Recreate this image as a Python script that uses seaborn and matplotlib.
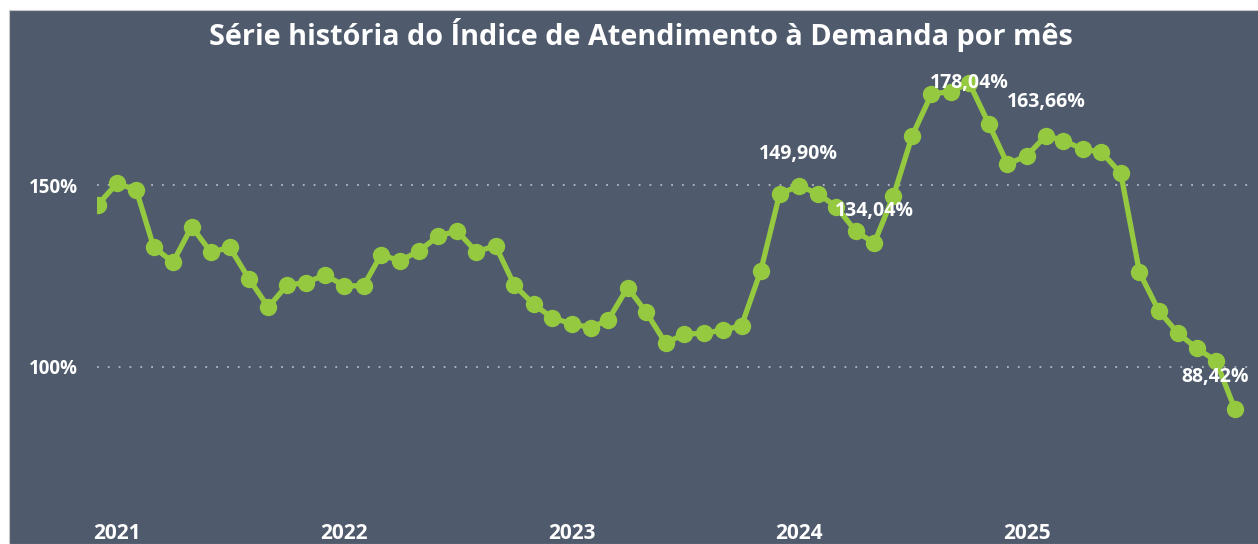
import matplotlib
matplotlib.use('Agg')

import numpy as np
import pandas as pd
import seaborn as sns
import matplotlib.pyplot as plt
import matplotlib.dates as mdates
from matplotlib.patches import Rectangle

# monthly series, Dec/2020 .. Dec/2025
meses = pd.date_range('2020-12-01', '2025-12-01', freq='MS')
indice = [
    144.6,
    150.5, 148.7, 132.9, 128.8, 138.6, 131.5, 132.9, 124.2, 116.4, 122.5, 123.2, 125.3,
    122.3, 122.3, 130.8, 129.2, 131.9, 136.0, 137.4, 131.7, 133.3, 122.5, 117.2, 113.5,
    111.8, 110.8, 112.9, 121.8, 115.0, 106.5, 109.0, 109.2, 110.1, 111.3, 126.5, 147.5,
    149.90, 147.6, 144.1, 137.4, 134.04, 147.1, 163.6, 175.1, 175.8, 178.04, 166.9, 155.8,
    158.1, 163.66, 162.3, 159.9, 159.1, 153.3, 126.0, 115.4, 109.2, 105.1, 101.6, 88.42,
]
rotulos_idx = [37, 41, 46, 50, 60]
rotulos_off = [(0, 23), (0, 23), (0, 0), (0, 24), (-14, 23)]
anos = ['2021', '2022', '2023', '2024', '2025']

df = pd.DataFrame({'mes': meses, 'indice': indice})

BG = '#4F5B6D'
VERDE = '#95C940'

sns.set_theme(style='white', rc={'axes.facecolor': BG, 'figure.facecolor': 'white'})
plt.rcParams['font.family'] = ['Open Sans', 'DejaVu Sans']

fig = plt.figure(figsize=(12.58, 5.44), dpi=100)
fig.patches.append(Rectangle((9 / 1258, 0), 1, (544 - 10) / 544, transform=fig.transFigure,
                             facecolor=BG, edgecolor='#C8C8C8', linewidth=0.8, zorder=-5))

ax = fig.add_axes([97 / 1258, (544 - 512) / 544, 1153 / 1258, (512 - 69) / 544])
ax.set_facecolor(BG)
ax.set_zorder(2)

g = sns.lineplot(data=df, x='mes', y='indice', ax=ax, color=VERDE, linewidth=3.8,
                 marker='o', markersize=12.5, markeredgewidth=0, markerfacecolor=VERDE)

x0 = mdates.date2num(pd.Timestamp('2020-12-01')) - 1.1
ax.set_xlim(x0, x0 + 1153 / 0.6227)
ax.set_ylim(60, 182)

for s in ax.spines.values():
    s.set_visible(False)

ax.set_yticks([100, 150])
ax.set_yticklabels(['100%', '150%'])
ax.yaxis.grid(True, color='#B4BAC2', linestyle=(0, (1, 5)), linewidth=1.3)
ax.xaxis.grid(False)
ax.set_axisbelow(True)

ax.set_xticks([mdates.date2num(pd.Timestamp(a + '-01-01')) for a in anos])
ax.set_xticklabels(anos)
ax.tick_params(axis='x', length=0, pad=8, labelsize=15, labelcolor='white')
ax.tick_params(axis='y', length=0, pad=14, labelsize=13.5, labelcolor='white')
for lab in ax.get_xticklabels() + ax.get_yticklabels():
    lab.set_fontweight('bold')

ax.set_xlabel('')
ax.set_ylabel('')

for i, (dx, dy) in zip(rotulos_idx, rotulos_off):
    txt = '{:.2f}%'.format(indice[i]).replace('.', ',')
    ax.annotate(txt, (df['mes'][i], indice[i]), xytext=(dx, dy), textcoords='offset points',
                ha='center', va='center', color='white', fontsize=14, fontweight='bold',
                annotation_clip=False)

fig.text(641 / 1258, (544 - 35) / 544,
         'Série história do Índice de Atendimento à Demanda por mês',
         ha='center', va='center', color='white', fontsize=20.8, fontweight='bold')

plt.savefig('out.png', dpi=100)
plt.close('all')
